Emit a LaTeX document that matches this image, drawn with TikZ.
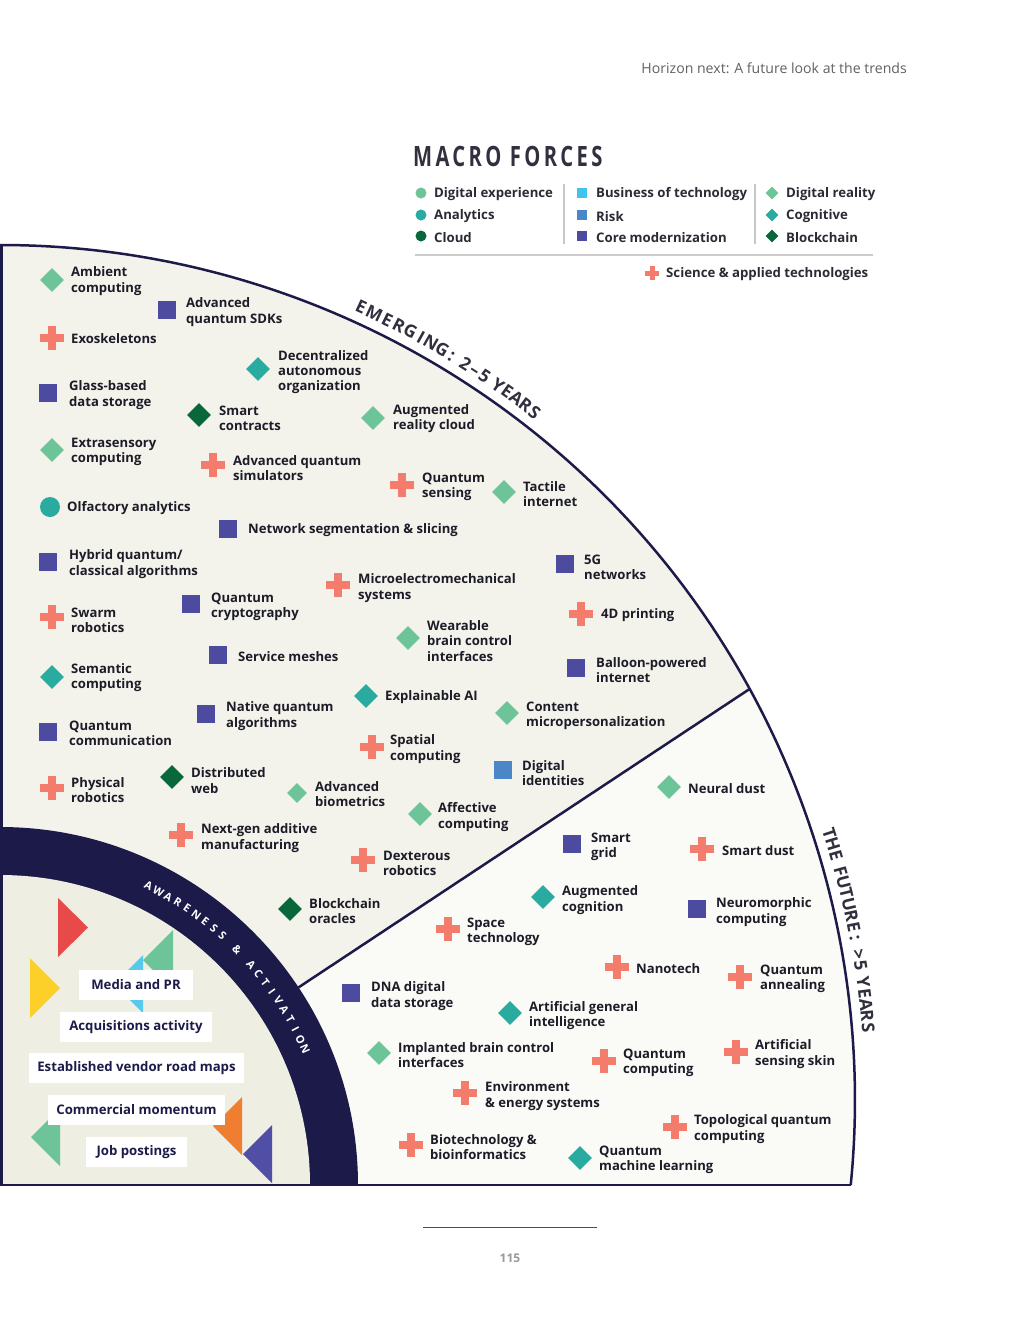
\documentclass[tikz,border=0pt]{standalone}
\usepackage{fontspec}
\setmainfont{Open Sans}
\newfontfamily\condfont{Open Sans}[FakeStretch=0.72,LetterSpace=12]
\usetikzlibrary{shapes.geometric}
\definecolor{navy}{RGB}{28,26,72}
\definecolor{labelc}{RGB}{28,28,40}
\definecolor{emfill}{RGB}{244,243,235}
\definecolor{futfill}{RGB}{250,250,246}
\definecolor{innfill}{RGB}{238,238,226}
\definecolor{lgreen}{RGB}{108,196,152}
\definecolor{teal}{RGB}{42,171,159}
\definecolor{dkgreen}{RGB}{8,104,60}
\definecolor{indigo}{RGB}{76,75,160}
\definecolor{riskblue}{RGB}{74,134,200}
\definecolor{bizblue}{RGB}{64,196,236}
\definecolor{coral}{RGB}{244,124,108}
\definecolor{trired}{RGB}{232,74,74}
\definecolor{triyellow}{RGB}{252,208,40}
\definecolor{tricyan}{RGB}{88,200,236}
\definecolor{triorange}{RGB}{240,126,48}
\definecolor{tripurple}{RGB}{80,78,165}
\definecolor{ringtext}{RGB}{48,48,62}
\newcommand\tech[5]{\node[#2] (#1m) at (#3) {}; \node[lbl] (#1) at (#4) {#5};}
\newcommand\arcletters[5]{%
  \foreach \ch/\ang [count=\k] in {#5} {%
    \node[#4, anchor=base, inner sep=0, rotate=\ang-90] (#1\k) at ([shift={(\ang:#3)}]#2) {\ch};
  }}
\begin{document}
\begin{tikzpicture}[x=1pt,y=1pt,
  lbl/.style={anchor=west, align=left, inner sep=0, yshift=-1.5, font=\fontsize{13.1}{15.2}\selectfont\bfseries, text=labelc},
  dia/.style={diamond, inner sep=0, minimum width=24, minimum height=24, fill=#1},
  sdia/.style={diamond, inner sep=0, minimum width=20, minimum height=20, fill=#1},
  sqm/.style={rectangle, inner sep=0, minimum size=18, fill=#1},
  circm/.style={circle, inner sep=0, minimum size=20, fill=#1},
  crs/.style={rectangle, inner sep=0, outer sep=0, minimum size=24, path picture={
     \fill[coral] ([shift={(-12,-4)}]path picture bounding box.center) rectangle ([shift={(12,4)}]path picture bounding box.center);
     \fill[coral] ([shift={(-4,-12)}]path picture bounding box.center) rectangle ([shift={(4,12)}]path picture bounding box.center);}},
  lcrs/.style={rectangle, inner sep=0, outer sep=0, minimum size=14, path picture={
     \fill[coral] ([shift={(-7,-2.5)}]path picture bounding box.center) rectangle ([shift={(7,2.5)}]path picture bounding box.center);
     \fill[coral] ([shift={(-2.5,-7)}]path picture bounding box.center) rectangle ([shift={(2.5,7)}]path picture bounding box.center);}},
  ldia/.style={diamond, inner sep=0, minimum width=13, minimum height=13, fill=#1},
  lsq/.style={rectangle, inner sep=0, minimum size=10.5, fill=#1},
  lcirc/.style={circle, inner sep=0, minimum size=11, fill=#1},
  legtext/.style={anchor=west, inner sep=0, yshift=-1.5, font=\fontsize{13.2}{15}\selectfont\bfseries, text=labelc!85!gray},
  wbox/.style={fill=white, inner sep=0, minimum height=30, font=\fontsize{13.2}{15}\selectfont\bfseries, text=navy},
  emtext/.style={font=\fontsize{17.5}{17.5}\selectfont\bfseries, text=ringtext},
  awtext/.style={font=\fontsize{11}{11}\selectfont\bfseries, text=white}
]
\useasboundingbox (0,0) rectangle (1020,-1320);
\fill[white] (0,0) rectangle (1020,-1320);

\coordinate (C) at (0,-1100);
\coordinate (O) at (0,-1185);

% regions
\fill[emfill] (0,-1185) -- (0,-245) arc[start angle=90, end angle=-5.706, radius=855] -- cycle;
\fill[futfill] (0,-1185) -- (749.7,-688.9) arc[start angle=28.74, end angle=-5.706, radius=855] -- cycle;
\fill[navy] (0,-1185) -- (358,-1185) arc[start angle=0, end angle=90, radius=358] -- cycle;
\fill[innfill] (0,-1185) -- (310,-1185) arc[start angle=0, end angle=90, radius=310] -- cycle;

% outlines
\draw[navy, line width=2.5] (0,-245) arc[start angle=90, end angle=-5.706, radius=855];
\draw[navy, line width=3] (1.5,-245) -- (1.5,-1185);
\draw[navy, line width=2] (0,-1185) -- (850.8,-1185);
\draw[navy, line width=2.5] (298.5,-987.4) -- (749.7,-688.9);

% triangles
\fill[trired] (58,-898) -- (88,-927.5) -- (58,-957) -- cycle;
\fill[triyellow] (30,-958) -- (60,-988) -- (30,-1018) -- cycle;
\fill[tricyan] (143,-955) -- (143,-1013) -- (114,-984) -- cycle;
\fill[lgreen] (173,-930) -- (173,-990) -- (143,-960) -- cycle;
\fill[triorange] (242,-1097) -- (242,-1155) -- (213,-1126) -- cycle;
\fill[tripurple] (272,-1125) -- (272,-1183) -- (243,-1154) -- cycle;
\fill[lgreen] (60,-1108) -- (60,-1166) -- (31,-1137) -- cycle;

% white boxes
\node[wbox, minimum width=114] (media) at (136,-985) {Media and PR};
\node[wbox, minimum width=152] (acq) at (136,-1027) {Acquisitions activity};
\node[wbox, minimum width=215] (estab) at (136.5,-1068) {Established vendor road maps};
\node[wbox, minimum width=177] (comm) at (136.5,-1110) {Commercial momentum};
\node[wbox, minimum width=101] (jobs) at (136.5,-1152) {Job postings};

% arc texts
\arcletters{em}{C}{865}{emtext}{E/65.5,M/64.55,E/63.6,R/62.75,G/61.9,I/61.1,N/60.35,G/59.5,:/58.75,2/57.7,–/56.95,5/56.2,Y/55.15,E/54.4,A/53.65,R/52.9,S/52.15}
\arcletters{fu}{C}{865}{emtext}{T/17.83,H/17.08,E/16.33,F/15.23,U/14.48,T/13.73,U/12.98,R/12.23,E/11.48,:/10.73,>/9.63,5/8.88,Y/7.78,E/7.03,A/6.28,R/5.53,S/4.78}
\arcletters{aw}{O}{330}{awtext}{A/63.6,W/61.68,A/59.76,R/57.84,E/55.92,N/54.0,E/52.08,S/50.16,S/48.24,\&/44.74,A/41.24,C/39.32,T/37.4,I/35.48,V/33.56,A/31.64,T/29.72,I/27.8,O/25.88,N/23.96}

% emerging items
\tech{ambient}{dia=lgreen}{52,-280}{71,-279.5}{Ambient\\computing}
\tech{aqsdk}{sqm=indigo}{167,-310}{186,-310.5}{Advanced\\quantum SDKs}
\tech{exo}{crs}{52,-338}{71,-337}{Exoskeletons}
\tech{dao}{dia=teal}{258,-369}{278,-370.5}{Decentralized\\autonomous\\organization}
\tech{glass}{sqm=indigo}{48,-393}{69,-393.5}{Glass-based\\data storage}
\tech{smartc}{dia=dkgreen}{199,-415}{219,-416.5}{Smart\\contracts}
\tech{arcloud}{dia=lgreen}{373,-418}{393,-417}{Augmented\\reality cloud}
\tech{extra}{dia=lgreen}{52,-450}{71,-450.5}{Extrasensory\\computing}
\tech{aqsim}{crs}{213,-465}{233,-466.5}{Advanced quantum\\simulators}
\tech{qsense}{crs}{402,-485}{422,-485.5}{Quantum\\sensing}
\tech{tactile}{dia=lgreen}{504,-492}{523,-492.5}{Tactile\\internet}
\tech{olf}{circm=teal}{50,-507}{67,-507}{Olfactory analytics}
\tech{netseg}{sqm=indigo}{228,-529}{248,-529}{Network segmentation \& slicing}
\tech{hybrid}{sqm=indigo}{48,-562}{69,-562.5}{Hybrid quantum/\\classical algorithms}
\tech{fiveg}{sqm=indigo}{565,-564}{584,-565.5}{5G\\networks}
\tech{mems}{crs}{338,-585}{358,-586.5}{Microelectromechanical\\systems}
\tech{qcrypt}{sqm=indigo}{191,-604}{211,-605.5}{Quantum\\cryptography}
\tech{swarm}{crs}{52,-617}{71,-618.5}{Swarm\\robotics}
\tech{printfd}{crs}{581,-614}{601,-614}{4D printing}
\tech{wbci}{dia=lgreen}{408,-638}{427,-639.5}{Wearable\\brain control\\interfaces}
\tech{svcmesh}{sqm=indigo}{218,-655}{238,-655}{Service meshes}
\tech{balloon}{sqm=indigo}{576,-668}{596,-668.5}{Balloon-powered\\internet}
\tech{semantic}{dia=teal}{52,-677}{71,-676}{Semantic\\computing}
\tech{xai}{dia=teal}{366,-696}{385,-696}{Explainable AI}
\tech{nqa}{sqm=indigo}{206,-714}{226,-714.5}{Native quantum\\algorithms}
\tech{content}{dia=lgreen}{507,-713}{526,-714.5}{Content\\micropersonalization}
\tech{qcomm}{sqm=indigo}{48,-732}{69,-731.5}{Quantum\\communication}
\tech{spatial}{crs}{372,-747}{390,-747.5}{Spatial\\computing}
\tech{digid}{sqm=riskblue}{503,-770}{522,-771.5}{Digital\\identities}
\tech{physrob}{crs}{52,-788}{71,-788.5}{Physical\\robotics}
\tech{distweb}{dia=dkgreen}{172,-777}{191,-779}{Distributed\\web}
\tech{advbio}{sdia=lgreen}{297,-793}{315,-792.5}{Advanced\\biometrics}
\tech{affective}{dia=lgreen}{420,-814}{438,-815.5}{Affective\\computing}
\tech{nextgen}{crs}{181,-835}{201,-836.5}{Next-gen additive\\manufacturing}
\tech{dexter}{crs}{363,-860}{383,-861.5}{Dexterous\\robotics}
\tech{bcoracle}{dia=dkgreen}{290,-909}{309,-909.5}{Blockchain\\oracles}

% future items
\tech{neuraldust}{dia=lgreen}{669,-787}{688,-787}{Neural dust}
\tech{smartgrid}{sqm=indigo}{572,-844}{591,-845}{Smart\\grid}
\tech{smartdust}{crs}{702,-849}{722,-849}{Smart dust}
\tech{augcog}{dia=teal}{543,-897}{562,-898.5}{Augmented\\cognition}
\tech{neuromorph}{sqm=indigo}{697,-909}{716,-910.5}{Neuromorphic\\computing}
\tech{spacetech}{crs}{448,-929}{467,-930.5}{Space\\technology}
\tech{nanotech}{crs}{617,-967}{636,-967}{Nanotech}
\tech{qanneal}{crs}{740,-977}{760,-977.5}{Quantum\\annealing}
\tech{dna}{sqm=indigo}{351,-993}{371,-994.5}{DNA digital\\data storage}
\tech{agi}{dia=teal}{510,-1013}{529,-1014}{Artificial general\\intelligence}
\tech{implant}{dia=lgreen}{379,-1053}{398,-1053.5}{Implanted brain control\\interfaces}
\tech{qcomp}{crs}{604,-1061}{623,-1061.5}{Quantum\\computing}
\tech{artskin}{crs}{736,-1052}{755,-1052.5}{Artificial\\sensing skin}
\tech{envsys}{crs}{465,-1093}{485,-1094.5}{Environment\\\& energy systems}
\tech{topo}{crs}{675,-1127}{694,-1127.5}{Topological quantum\\computing}
\tech{biotech}{crs}{411,-1145}{430,-1145.5}{Biotechnology \&\\bioinformatics}
\tech{qml}{dia=teal}{580,-1158}{599,-1158.5}{Quantum\\machine learning}

% header / legend
\node[anchor=east, inner sep=0, font=\fontsize{14.1}{16}\selectfont, text=black!62] (hdr) at (907,-68) {Horizon next: A future look at the trends};
\node[anchor=west, inner sep=0, font=\condfont\fontsize{28}{30}\selectfont\bfseries, text=ringtext] (macro) at (413,-156) {MACRO FORCES};

\node[lcirc=lgreen] (l1m) at (421,-193) {}; \node[legtext] (l1) at (434,-193) {Digital experience};
\node[lcirc=teal] (l2m) at (421,-215) {}; \node[legtext] (l2) at (434,-215) {Analytics};
\node[lcirc=dkgreen] (l3m) at (421,-236) {}; \node[legtext] (l3) at (434,-236) {Cloud};
\node[lsq=bizblue] (l4m) at (582,-193) {}; \node[legtext] (l4) at (596,-193) {Business of technology};
\node[lsq=riskblue] (l5m) at (582,-215) {}; \node[legtext] (l5) at (596,-215) {Risk};
\node[lsq=indigo] (l6m) at (582,-236) {}; \node[legtext] (l6) at (596,-236) {Core modernization};
\node[ldia=lgreen] (l7m) at (772,-193) {}; \node[legtext] (l7) at (786,-193) {Digital reality};
\node[ldia=teal] (l8m) at (772,-215) {}; \node[legtext] (l8) at (786,-215) {Cognitive};
\node[ldia=dkgreen] (l9m) at (772,-236) {}; \node[legtext] (l9) at (786,-236) {Blockchain};
\node[lcrs] (l10m) at (652,-273) {}; \node[legtext] (l10) at (666,-273) {Science \& applied technologies};
\draw[black!22, line width=2.5] (564,-184) -- (564,-244);
\draw[black!22, line width=2.5] (755,-184) -- (755,-244);
\draw[black!20, line width=2] (415,-255) -- (873,-255);

% footer
\draw[black!70, line width=1] (423,-1227) -- (597,-1227);
\node[inner sep=0, font=\fontsize{12}{14}\selectfont\bfseries, text=black!40] (pagenum) at (510,-1258) {115};
\end{tikzpicture}
\end{document}
